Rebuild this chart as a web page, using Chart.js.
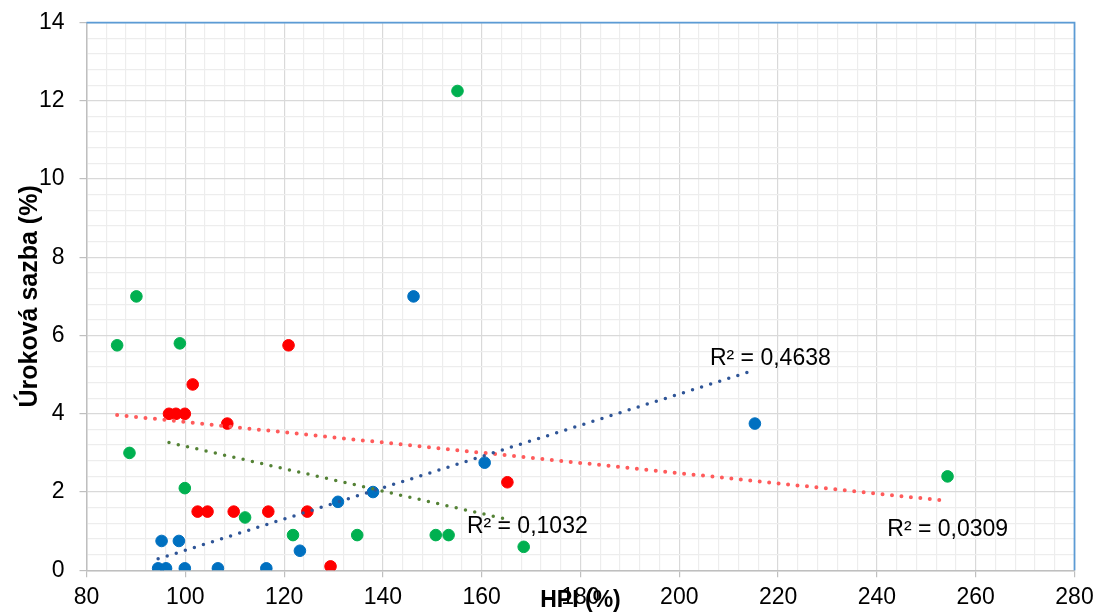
<!DOCTYPE html>
<html><head><meta charset="utf-8">
<script src="https://cdn.jsdelivr.net/npm/chart.js@4/dist/chart.umd.min.js"></script>
<style>html,body{margin:0;padding:0;background:#fff;overflow:hidden;}canvas{display:block;}</style>
</head><body>
<canvas id="c" width="1097" height="614"></canvas>
<script>
// ---- data ----
const blueHPI  = [94.5, 95.2, 96.1, 98.7, 99.9, 106.6, 116.4, 123.2, 130.9, 138.0, 146.2, 160.6, 215.3];
const blueRate = [0.05, 0.75, 0.05, 0.75, 0.05, 0.05, 0.05, 0.5, 1.75, 2.0, 7.0, 2.75, 3.75];
const redHPI   = [96.7, 98.1, 99.9, 101.5, 102.5, 104.5, 108.5, 109.8, 116.8, 120.9, 124.7, 129.4, 165.2];
const redRate  = [4.0, 4.0, 4.0, 4.75, 1.5, 1.5, 3.75, 1.5, 1.5, 5.75, 1.5, 0.1, 2.25];
const greenHPI = [86.2, 88.7, 90.1, 98.9, 99.9, 112.1, 121.8, 134.8, 150.7, 153.3, 155.1, 168.5, 254.3];
const greenRate= [5.75, 3.0, 7.0, 5.8, 2.1, 1.35, 0.9, 0.9, 0.9, 0.9, 12.25, 0.6, 2.4];
const xTickLabels = [80, 100, 120, 140, 160, 180, 200, 220, 240, 260, 280];
const yTickLabels = [0, 2, 4, 6, 8, 10, 12, 14];
const r2Texts = ['R² = 0,4638', 'R² = 0,1032', 'R² = 0,0309'];
const xTitle = 'HPI (%)';
const yTitle = 'Úroková sazba (%)';

const FONT = '"Liberation Sans", Arial, Helvetica, sans-serif';
Chart.defaults.font.family = FONT;
Chart.defaults.color = '#000';

function pts(xs, ys){ return xs.map((x,i)=>({x:x, y:ys[i]})); }
function trend(xs, ys){
  const n = xs.length;
  const mx = xs.reduce((a,b)=>a+b,0)/n, my = ys.reduce((a,b)=>a+b,0)/n;
  let sxy=0, sxx=0;
  for(let i=0;i<n;i++){ sxy += (xs[i]-mx)*(ys[i]-my); sxx += (xs[i]-mx)*(xs[i]-mx); }
  const b = sxy/sxx, a = my - b*mx;
  const lo = Math.min(...xs), hi = Math.max(...xs);
  return [{x:lo, y:a+b*lo}, {x:hi, y:a+b*hi}];
}
function isMajor(v, step){ return Math.abs(v/step - Math.round(v/step)) < 1e-6; }

const trendStyle = (color, w) => ({
  type:'line', showLine:true, borderColor:color, borderWidth:w, borderDash:[0,9.5],
  borderCapStyle:'round', pointRadius:0, pointHoverRadius:0, fill:false, order:0
});
const pointStyle = (color) => ({
  type:'scatter', backgroundColor:color, borderColor:color, pointRadius:5.8, borderWidth:1,
  pointHoverRadius:5.8, order:1
});

const borderPlugin = {
  id:'plotBorder',
  beforeDatasetsDraw(chart){
    const {ctx, chartArea:a} = chart;
    ctx.save();
    ctx.strokeStyle = '#5B9BD5'; ctx.lineWidth = 1.75;
    ctx.beginPath();
    ctx.moveTo(a.left, a.top); ctx.lineTo(a.right, a.top); ctx.lineTo(a.right, a.bottom);
    ctx.stroke();
    ctx.restore();
  }
};
const r2Plugin = {
  id:'r2Labels',
  afterDatasetsDraw(chart, args, opts){
    const {ctx, scales} = chart;
    ctx.save();
    ctx.font = '23px ' + FONT; ctx.fillStyle = '#000';
    ctx.textAlign = 'left'; ctx.textBaseline = 'alphabetic';
    opts.items.forEach(it => {
      ctx.fillText(it.text, scales.x.getPixelForValue(it.x), scales.y.getPixelForValue(it.y));
    });
    ctx.restore();
  }
};

new Chart(document.getElementById('c'), {
  type:'scatter',
  data:{ datasets:[
    Object.assign({label:'trend blue', data:trend(blueHPI, blueRate)}, trendStyle('#2F5597', 3.5)),
    Object.assign({label:'trend red', data:trend(redHPI, redRate)}, trendStyle('#548235', 3.5)),
    Object.assign({label:'trend green', data:trend(greenHPI, greenRate)}, trendStyle('#FF5B5B', 4)),
    Object.assign({label:'blue', data:pts(blueHPI, blueRate)}, pointStyle('#0070C0')),
    Object.assign({label:'red', data:pts(redHPI, redRate)}, pointStyle('#FF0000')),
    Object.assign({label:'green', data:pts(greenHPI, greenRate)}, pointStyle('#00B050'))
  ]},
  options:{
    responsive:false, animation:false, devicePixelRatio:1,
    layout:{ padding:{ left:0, right:22.5, top:22.5, bottom:0 } },
    plugins:{
      legend:{display:false}, tooltip:{enabled:false},
      r2Labels:{ items:[
        {text:r2Texts[0], x:206.2, y:5.25},
        {text:r2Texts[1], x:157.0, y:0.945},
        {text:r2Texts[2], x:242.1, y:0.87}
      ]}
    },
    scales:{
      x:{
        type:'linear', min:80, max:280,
        afterFit:(s)=>{ s.height = 43.7; s.paddingLeft = 0; s.paddingRight = 0; },
        ticks:{ stepSize:4, autoSkip:false, maxRotation:0, padding:6.4,
          font:{size:23}, color:'#000',
          callback:(v)=> isMajor(v,20) && xTickLabels.includes(Math.round(v)) ? String(Math.round(v)) : '' },
        grid:{ drawTicks:true, tickLength:7,
          color:(c)=> isMajor(c.tick.value,20) ? '#D9D9D9' : '#EDEDED',
          tickColor:(c)=> isMajor(c.tick.value,20) ? '#BFBFBF' : 'rgba(0,0,0,0)',
          lineWidth:1.2 },
        border:{ display:true, color:'#BFBFBF', width:1.5 },
        title:{ display:true, text:xTitle, font:{size:23, weight:'bold'}, color:'#000',
          padding:{top:0, bottom:-0.5} }
      },
      y:{
        type:'linear', min:0, max:14,
        afterFit:(s)=>{ s.width = 86.5; s.paddingTop = 0; s.paddingBottom = 0; },
        ticks:{ stepSize:0.4, autoSkip:false, padding:15, font:{size:23}, color:'#000',
          callback:(v)=> isMajor(v,2) && yTickLabels.includes(Math.round(v)) ? String(Math.round(v)) : '' },
        grid:{ drawTicks:true, tickLength:7,
          color:(c)=> isMajor(c.tick.value,2) ? '#D9D9D9' : '#EDEDED',
          tickColor:(c)=> isMajor(c.tick.value,2) ? '#BFBFBF' : 'rgba(0,0,0,0)',
          lineWidth:1.2 },
        border:{ display:true, color:'#BFBFBF', width:1.5 },
        title:{ display:true, text:yTitle, font:{size:25, weight:'bold'}, color:'#000',
          padding:{top:15, bottom:0} }
      }
    }
  },
  plugins:[borderPlugin, r2Plugin]
});
</script>
</body></html>
